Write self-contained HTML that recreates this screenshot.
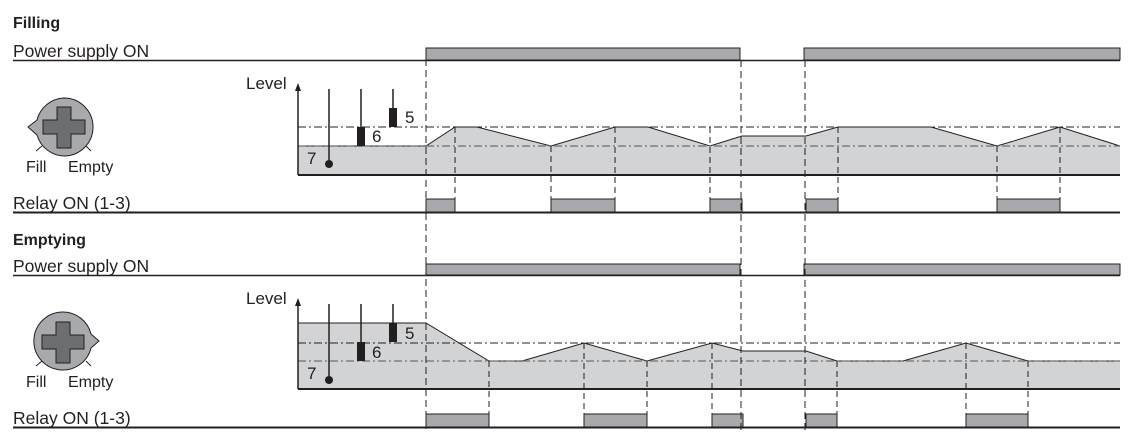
<!DOCTYPE html>
<html><head><meta charset="utf-8"><style>
html,body{margin:0;padding:0;background:#fff;}
svg{display:block;}
text{font-family:"Liberation Sans",sans-serif;fill:#231f20;}
</style></head><body>
<svg width="1132" height="438" viewBox="0 0 1132 438" xmlns="http://www.w3.org/2000/svg">
<!-- Titles -->
<text x="13" y="28" font-size="16" font-weight="bold">Filling</text>
<text x="13" y="57" font-size="17.5">Power supply ON</text>
<text x="13" y="209" font-size="17.5">Relay ON (1-3)</text>
<text x="13" y="245" font-size="16" font-weight="bold">Emptying</text>
<text x="13" y="272" font-size="17.5">Power supply ON</text>
<text x="13" y="424" font-size="17.5">Relay ON (1-3)</text>

<!-- FILLING -->
<g stroke="#231f20" fill="#a7a9ac" stroke-width="1">
<rect x="426" y="48" width="314" height="12"/>
<rect x="804" y="48" width="316" height="12"/>
</g>
<line x1="13" y1="60.5" x2="1120" y2="60.5" stroke="#231f20" stroke-width="1.5"/>
<polygon points="298,146 426,146 455,127 477,127 551,146 615,127 648,127 710,146 742,136 806,136 838,127 931,127 997,146 1060,127 1120,146 1120,175 298,175" fill="#d1d3d4"/>
<polyline points="298,146 426,146 455,127 477,127 551,146 615,127 648,127 710,146 742,136 806,136 838,127 931,127 997,146 1060,127 1120,146" fill="none" stroke="#231f20" stroke-width="1"/>
<line x1="298" y1="127" x2="1120" y2="127" stroke="#231f20" stroke-dasharray="8,3,2,3" stroke-width="1"/>
<line x1="298" y1="146" x2="1120" y2="146" stroke="#6d6e71" stroke-dasharray="8,3,2,3" stroke-width="1.2"/>
<line x1="298" y1="175" x2="1120" y2="175" stroke="#231f20" stroke-width="2"/>
<line x1="298" y1="175" x2="298" y2="90" stroke="#231f20" stroke-width="1.5"/>
<polygon points="298,83 295,91 301,91" fill="#231f20"/>
<text x="246" y="89" font-size="17">Level</text>
<g stroke="#231f20" stroke-width="1.5"><line x1="329" y1="89" x2="329" y2="164"/><line x1="361" y1="89" x2="361" y2="128"/><line x1="393" y1="89" x2="393" y2="110"/></g>
<circle cx="329" cy="164" r="4" fill="#231f20"/>
<rect x="357" y="127" width="8" height="19" fill="#231f20"/>
<rect x="389" y="108" width="8" height="19" fill="#231f20"/>
<text x="405" y="123" font-size="17">5</text>
<text x="372" y="142" font-size="17">6</text>
<text x="307" y="164" font-size="17">7</text>
<g stroke="#231f20" fill="#a7a9ac" stroke-width="1">
<rect x="426" y="199" width="29" height="13"/>
<rect x="551" y="199" width="64" height="13"/>
<rect x="710" y="199" width="32" height="13"/>
<rect x="806" y="199" width="32" height="13"/>
<rect x="997" y="199" width="63" height="13"/>
</g>
<line x1="13" y1="212.5" x2="1120" y2="212.5" stroke="#231f20" stroke-width="2"/>
<g stroke="#231f20" stroke-width="1" stroke-dasharray="6,4">
<line x1="455" y1="127" x2="455" y2="212"/><line x1="551" y1="146" x2="551" y2="212"/>
<line x1="615" y1="127" x2="615" y2="212"/><line x1="710" y1="127" x2="710" y2="212"/>
<line x1="838" y1="127" x2="838" y2="212"/><line x1="997" y1="146" x2="997" y2="212"/>
<line x1="1060" y1="127" x2="1060" y2="212"/>
</g>

<!-- EMPTYING -->
<g stroke="#231f20" fill="#a7a9ac" stroke-width="1">
<rect x="426" y="264" width="314" height="11"/>
<rect x="804" y="264" width="316" height="11"/>
</g>
<line x1="13" y1="275.5" x2="1120" y2="275.5" stroke="#231f20" stroke-width="1.5"/>
<polygon points="298,323 426,323 489,361 522,361 584,343 647,361 712,343 743,351 806,351 837,361 903,361 966,343 1028,361 1120,361 1120,389 298,389" fill="#d1d3d4"/>
<polyline points="298,323 426,323 489,361 522,361 584,343 647,361 712,343 743,351 806,351 837,361 903,361 966,343 1028,361 1120,361" fill="none" stroke="#231f20" stroke-width="1"/>
<line x1="298" y1="343" x2="1120" y2="343" stroke="#231f20" stroke-dasharray="8,3,2,3" stroke-width="1"/>
<line x1="298" y1="361" x2="1120" y2="361" stroke="#6d6e71" stroke-dasharray="8,3,2,3" stroke-width="1.2"/>
<line x1="298" y1="389" x2="1120" y2="389" stroke="#231f20" stroke-width="2"/>
<line x1="298" y1="389" x2="298" y2="305" stroke="#231f20" stroke-width="1.5"/>
<polygon points="298,298 295,306 301,306" fill="#231f20"/>
<text x="246" y="304" font-size="17">Level</text>
<g stroke="#231f20" stroke-width="1.5"><line x1="329" y1="304" x2="329" y2="380"/><line x1="361" y1="304" x2="361" y2="343"/><line x1="393" y1="304" x2="393" y2="324"/></g>
<circle cx="329" cy="380" r="4" fill="#231f20"/>
<rect x="357" y="342" width="8" height="19" fill="#231f20"/>
<rect x="389" y="323" width="8" height="19" fill="#231f20"/>
<text x="405" y="339" font-size="17">5</text>
<text x="372" y="358" font-size="17">6</text>
<text x="307" y="379" font-size="17">7</text>
<g stroke="#231f20" fill="#a7a9ac" stroke-width="1">
<rect x="426" y="414" width="63" height="13"/>
<rect x="584" y="414" width="63" height="13"/>
<rect x="712" y="414" width="31" height="13"/>
<rect x="806" y="414" width="31" height="13"/>
<rect x="966" y="414" width="62" height="13"/>
</g>
<line x1="13" y1="427.5" x2="1120" y2="427.5" stroke="#231f20" stroke-width="2"/>
<g stroke="#231f20" stroke-width="1" stroke-dasharray="6,4">
<line x1="489" y1="361" x2="489" y2="427"/><line x1="584" y1="343" x2="584" y2="427"/>
<line x1="647" y1="361" x2="647" y2="427"/><line x1="712" y1="343" x2="712" y2="427"/>
<line x1="837" y1="361" x2="837" y2="427"/><line x1="966" y1="343" x2="966" y2="427"/>
<line x1="1028" y1="361" x2="1028" y2="427"/>
</g>
<g stroke="#231f20" stroke-width="1" stroke-dasharray="7,4">
<line x1="426" y1="48" x2="426" y2="430"/>
<line x1="741" y1="60" x2="741" y2="430"/>
<line x1="805" y1="60" x2="805" y2="430"/>
</g>

<!-- knobs -->
<g>
<line x1="36" y1="151" x2="42" y2="146" stroke="#231f20"/><line x1="86" y1="146" x2="91" y2="151" stroke="#231f20"/>
<path d="M64,98 A29,29 0 1 1 64,156 A29,29 0 0 1 37,135 L28,127 L37,120 A29,29 0 0 1 64,98 Z" fill="#a7a9ac" stroke="#231f20" stroke-width="1"/>
<path d="M57,107 h14 v13 h14 v14 h-14 v14 h-14 v-14 h-14 v-14 h14 Z" fill="#6d6e71" stroke="#231f20" stroke-width="1"/>
<text x="26" y="172" font-size="16">Fill</text><text x="68" y="172" font-size="16">Empty</text>
</g>
<g>
<line x1="36" y1="366" x2="42" y2="361" stroke="#231f20"/><line x1="86" y1="361" x2="91" y2="366" stroke="#231f20"/>
<path d="M63,312 A29,29 0 0 1 91,334 L99,341 L91,348 A29,29 0 1 1 63,312 Z" fill="#a7a9ac" stroke="#231f20" stroke-width="1"/>
<path d="M56,322 h14 v13 h14 v14 h-14 v14 h-14 v-14 h-14 v-14 h14 Z" fill="#6d6e71" stroke="#231f20" stroke-width="1"/>
<text x="26" y="387" font-size="16">Fill</text><text x="68" y="387" font-size="16">Empty</text>
</g>
</svg>
</body></html>
